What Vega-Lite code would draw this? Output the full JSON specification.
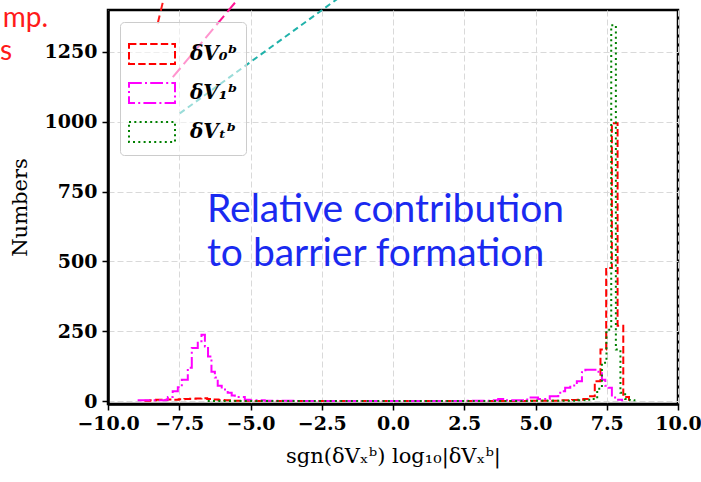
{
  "$schema": "https://vega.github.io/schema/vega-lite/v6.json",
  "width": 570,
  "height": 394,
  "autosize": {"type": "none"},
  "padding": {"left": 108, "top": 10, "right": 23, "bottom": 78},
  "background": "white",
  "config": {
    "view": {"stroke": "black", "strokeWidth": 2.5},
    "axis": {
      "domainColor": "black", "domainWidth": 2.5,
      "tickColor": "black", "tickWidth": 1.5, "tickSize": 6,
      "labelFont": "DejaVu Serif", "labelFontSize": 19, "labelFontWeight": "bold", "labelColor": "black",
      "gridColor": "#d9d9d9", "gridDash": [6, 3], "gridWidth": 1,
      "titleFont": "DejaVu Serif", "titleFontSize": 21, "titleFontWeight": "normal", "titleColor": "black"
    },
    "legend": {
      "orient": "none", "legendX": 12, "legendY": 12,
      "symbolType": "M-1,-0.435H1V0.435H-1Z",
      "symbolSize": 2116,
      "symbolStrokeWidth": 2,
      "symbolFillColor": "transparent",
      "labelFont": "DejaVu Serif", "labelFontSize": 20, "labelFontWeight": "bold", "labelFontStyle": "italic", "labelColor": "black",
      "labelOffset": 14,
      "padding": 8, "rowPadding": 0,
      "fillColor": "rgba(255,255,255,0.55)", "strokeColor": "#cccccc", "cornerRadius": 4
    }
  },
  "layer": [
    {
      "data": {"values": [
        {"s": "δV₀ᵇ", "x": -8.72, "n": 2}, {"s": "δV₀ᵇ", "x": -8.52, "n": 3}, {"s": "δV₀ᵇ", "x": -8.32, "n": 5}, {"s": "δV₀ᵇ", "x": -8.12, "n": 4},
        {"s": "δV₀ᵇ", "x": -7.92, "n": 6}, {"s": "δV₀ᵇ", "x": -7.72, "n": 5}, {"s": "δV₀ᵇ", "x": -7.52, "n": 7}, {"s": "δV₀ᵇ", "x": -7.32, "n": 8},
        {"s": "δV₀ᵇ", "x": -7.12, "n": 9}, {"s": "δV₀ᵇ", "x": -6.92, "n": 10}, {"s": "δV₀ᵇ", "x": -6.72, "n": 11}, {"s": "δV₀ᵇ", "x": -6.52, "n": 8},
        {"s": "δV₀ᵇ", "x": -6.32, "n": 6}, {"s": "δV₀ᵇ", "x": -6.12, "n": 4}, {"s": "δV₀ᵇ", "x": -5.92, "n": 3}, {"s": "δV₀ᵇ", "x": -5.72, "n": 2},
        {"s": "δV₀ᵇ", "x": -5.52, "n": 2}, {"s": "δV₀ᵇ", "x": -4.92, "n": 1}, {"s": "δV₀ᵇ", "x": -4.12, "n": 1}, {"s": "δV₀ᵇ", "x": -3.32, "n": 1},
        {"s": "δV₀ᵇ", "x": -2.52, "n": 1}, {"s": "δV₀ᵇ", "x": -1.72, "n": 1}, {"s": "δV₀ᵇ", "x": -0.92, "n": 1}, {"s": "δV₀ᵇ", "x": -0.12, "n": 1},
        {"s": "δV₀ᵇ", "x": 0.68, "n": 1}, {"s": "δV₀ᵇ", "x": 1.48, "n": 1}, {"s": "δV₀ᵇ", "x": 2.28, "n": 1}, {"s": "δV₀ᵇ", "x": 3.08, "n": 1},
        {"s": "δV₀ᵇ", "x": 3.88, "n": 1}, {"s": "δV₀ᵇ", "x": 4.68, "n": 2}, {"s": "δV₀ᵇ", "x": 5.48, "n": 2}, {"s": "δV₀ᵇ", "x": 5.88, "n": 3},
        {"s": "δV₀ᵇ", "x": 6.28, "n": 4}, {"s": "δV₀ᵇ", "x": 6.48, "n": 5}, {"s": "δV₀ᵇ", "x": 6.68, "n": 8}, {"s": "δV₀ᵇ", "x": 6.88, "n": 18},
        {"s": "δV₀ᵇ", "x": 7.08, "n": 71}, {"s": "δV₀ᵇ", "x": 7.28, "n": 185}, {"s": "δV₀ᵇ", "x": 7.48, "n": 477}, {"s": "δV₀ᵇ", "x": 7.68, "n": 995},
        {"s": "δV₀ᵇ", "x": 7.88, "n": 270}, {"s": "δV₀ᵇ", "x": 8.08, "n": 15}, {"s": "δV₀ᵇ", "x": 8.28, "n": 0},

        {"s": "δV₁ᵇ", "x": -8.96, "n": 3}, {"s": "δV₁ᵇ", "x": -7.97, "n": 5}, {"s": "δV₁ᵇ", "x": -7.9, "n": 15}, {"s": "δV₁ᵇ", "x": -7.73, "n": 36},
        {"s": "δV₁ᵇ", "x": -7.55, "n": 50}, {"s": "δV₁ᵇ", "x": -7.41, "n": 77}, {"s": "δV₁ᵇ", "x": -7.2, "n": 120}, {"s": "δV₁ᵇ", "x": -7.06, "n": 190},
        {"s": "δV₁ᵇ", "x": -6.85, "n": 215}, {"s": "δV₁ᵇ", "x": -6.72, "n": 238}, {"s": "δV₁ᵇ", "x": -6.6, "n": 196}, {"s": "δV₁ᵇ", "x": -6.49, "n": 160},
        {"s": "δV₁ᵇ", "x": -6.37, "n": 105}, {"s": "δV₁ᵇ", "x": -6.25, "n": 85}, {"s": "δV₁ᵇ", "x": -6.15, "n": 55}, {"s": "δV₁ᵇ", "x": -6.01, "n": 42},
        {"s": "δV₁ᵇ", "x": -5.8, "n": 30}, {"s": "δV₁ᵇ", "x": -5.66, "n": 20}, {"s": "δV₁ᵇ", "x": -5.55, "n": 15}, {"s": "δV₁ᵇ", "x": -5.2, "n": 5},
        {"s": "δV₁ᵇ", "x": -5.02, "n": 3}, {"s": "δV₁ᵇ", "x": -4.5, "n": 2}, {"s": "δV₁ᵇ", "x": -3.5, "n": 1}, {"s": "δV₁ᵇ", "x": -2.0, "n": 1},
        {"s": "δV₁ᵇ", "x": -0.5, "n": 1}, {"s": "δV₁ᵇ", "x": 1.0, "n": 1}, {"s": "δV₁ᵇ", "x": 2.5, "n": 2}, {"s": "δV₁ᵇ", "x": 3.5, "n": 3},
        {"s": "δV₁ᵇ", "x": 3.69, "n": 8}, {"s": "δV₁ᵇ", "x": 4.0, "n": 3}, {"s": "δV₁ᵇ", "x": 4.71, "n": 13}, {"s": "δV₁ᵇ", "x": 5.09, "n": 8},
        {"s": "δV₁ᵇ", "x": 5.5, "n": 18}, {"s": "δV₁ᵇ", "x": 5.8, "n": 30}, {"s": "δV₁ᵇ", "x": 5.94, "n": 36}, {"s": "δV₁ᵇ", "x": 6.04, "n": 48},
        {"s": "δV₁ᵇ", "x": 6.22, "n": 56}, {"s": "δV₁ᵇ", "x": 6.45, "n": 71}, {"s": "δV₁ᵇ", "x": 6.63, "n": 104}, {"s": "δV₁ᵇ", "x": 6.75, "n": 113},
        {"s": "δV₁ᵇ", "x": 7.21, "n": 100}, {"s": "δV₁ᵇ", "x": 7.33, "n": 77}, {"s": "δV₁ᵇ", "x": 7.45, "n": 55}, {"s": "δV₁ᵇ", "x": 7.56, "n": 48},
        {"s": "δV₁ᵇ", "x": 7.68, "n": 13}, {"s": "δV₁ᵇ", "x": 7.86, "n": 5}, {"s": "δV₁ᵇ", "x": 8.04, "n": 0},

        {"s": "δVₜᵇ", "x": -6.5, "n": 1}, {"s": "δVₜᵇ", "x": -5.0, "n": 1}, {"s": "δVₜᵇ", "x": -3.0, "n": 1}, {"s": "δVₜᵇ", "x": -1.0, "n": 1},
        {"s": "δVₜᵇ", "x": 1.0, "n": 1}, {"s": "δVₜᵇ", "x": 3.0, "n": 1}, {"s": "δVₜᵇ", "x": 5.0, "n": 2}, {"s": "δVₜᵇ", "x": 6.0, "n": 2},
        {"s": "δVₜᵇ", "x": 6.5, "n": 3}, {"s": "δVₜᵇ", "x": 6.84, "n": 5}, {"s": "δVₜᵇ", "x": 7.0, "n": 8}, {"s": "δVₜᵇ", "x": 7.165, "n": 45},
        {"s": "δVₜᵇ", "x": 7.33, "n": 138}, {"s": "δVₜᵇ", "x": 7.49, "n": 256}, {"s": "δVₜᵇ", "x": 7.657, "n": 1345}, {"s": "δVₜᵇ", "x": 7.82, "n": 185},
        {"s": "δVₜᵇ", "x": 7.98, "n": 30}, {"s": "δVₜᵇ", "x": 8.145, "n": 8}, {"s": "δVₜᵇ", "x": 8.31, "n": 3}, {"s": "δVₜᵇ", "x": 8.47, "n": 0}
      ]},
      "mark": {"type": "line", "interpolate": "step-after", "strokeWidth": 2},
      "encoding": {
        "x": {
          "field": "x", "type": "quantitative",
          "scale": {"domain": [-10, 10], "nice": false, "zero": false},
          "axis": {"values": [-10, -7.5, -5, -2.5, 0, 2.5, 5, 7.5, 10], "format": ".1f", "labelPadding": 4, "labelFlush": false, "titlePadding": 12},
          "title": "sgn(δVₓᵇ) log₁₀|δVₓᵇ|"
        },
        "y": {
          "field": "n", "type": "quantitative",
          "scale": {"domain": [-10, 1400], "nice": false, "zero": false},
          "axis": {"values": [0, 250, 500, 750, 1000, 1250], "format": "d", "labelPadding": 5, "titlePadding": 14},
          "title": "Numbers"
        },
        "color": {
          "field": "s", "type": "nominal",
          "scale": {"domain": ["δV₀ᵇ", "δV₁ᵇ", "δVₜᵇ"], "range": ["#ff0000", "#ff00ff", "#008000"]},
          "legend": {"title": null}
        },
        "strokeDash": {
          "field": "s", "type": "nominal",
          "scale": {"domain": ["δV₀ᵇ", "δV₁ᵇ", "δVₜᵇ"], "range": [[7.4, 3.2], [12.8, 3.2, 2, 3.2], [2, 3.3]]},
          "legend": {"title": null}
        }
      }
    },
    {
      "data": {"values": [{}]},
      "mark": {"type": "text", "align": "left", "baseline": "alphabetic", "font": "Lato", "fontSize": 39, "color": "#1a2af0", "lineHeight": 44, "text": ["Relative contribution", "to barrier formation"]},
      "encoding": {"x": {"datum": -6.53}, "y": {"datum": 641.7}}
    },
    {
      "data": {"values": [{}]},
      "mark": {"type": "text", "align": "right", "baseline": "alphabetic", "font": "Lato", "fontSize": 28, "color": "#ff1a1a", "text": "mp."},
      "encoding": {"x": {"datum": -12.1}, "y": {"datum": 1338}}
    },
    {
      "data": {"values": [{}]},
      "mark": {"type": "text", "align": "right", "baseline": "alphabetic", "font": "Lato", "fontSize": 28, "color": "#ff1a1a", "text": "s"},
      "encoding": {"x": {"datum": -13.36}, "y": {"datum": 1222}}
    },
    {
      "data": {"values": [{}]},
      "mark": {"type": "rule", "color": "#ff1a1a", "strokeWidth": 2, "strokeDash": [8, 5]},
      "encoding": {"x": {"datum": -8.254}, "y": {"datum": 1352.4}, "x2": {"datum": -8.048}, "y2": {"datum": 1440}}
    },
    {
      "data": {"values": [{}]},
      "mark": {"type": "rule", "color": "#ff1493", "strokeWidth": 2, "strokeDash": [12, 5]},
      "encoding": {"x": {"datum": -7.727}, "y": {"datum": 1159.5}, "x2": {"datum": -5.43}, "y2": {"datum": 1440}}
    },
    {
      "data": {"values": [{}]},
      "mark": {"type": "rule", "color": "#20b2aa", "strokeWidth": 2, "strokeDash": [6, 4]},
      "encoding": {"x": {"datum": -7.482}, "y": {"datum": 1029.9}, "x2": {"datum": -1.95}, "y2": {"datum": 1440}}
    }
  ]
}
